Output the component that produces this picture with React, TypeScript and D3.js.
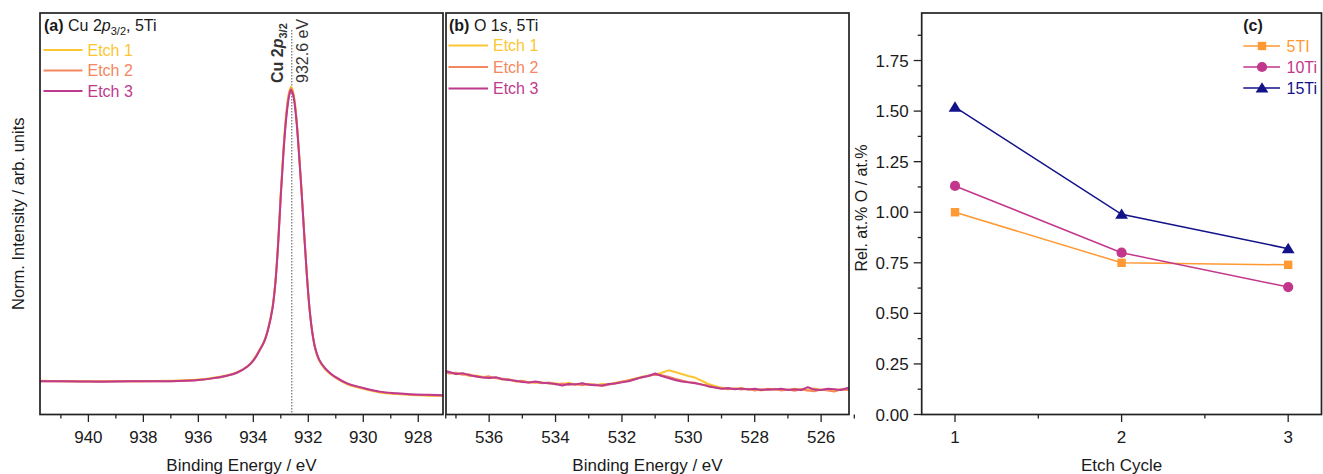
import React from 'react';
import * as d3 from 'd3';

const FONT = '"Liberation Sans", Arial, Helvetica, sans-serif';

// ---------- Panel (a): Cu 2p3/2 ----------
const cuEnergy = [941.9, 941.0, 940.0, 939.0, 938.0, 937.0, 936.5, 936.0, 935.5, 935.0, 934.6, 934.2, 934.0, 933.8, 933.6, 933.45, 933.3, 933.2, 933.1, 933.0, 932.9, 932.8, 932.7, 932.63, 932.55, 932.45, 932.35, 932.25, 932.15, 932.05, 931.95, 931.85, 931.75, 931.6, 931.4, 931.2, 931.0, 930.6, 930.0, 929.4, 928.8, 928.3, 927.6, 927.0];
const cuEtch1 = [8.4, 8.3, 8.3, 8.3, 8.3, 8.4, 8.5, 8.7, 9.1, 9.7, 10.5, 12.1, 13.6, 15.8, 18.4, 21.8, 26.9, 33.0, 42.7, 55.3, 66.5, 75.2, 80.3, 81.6, 80.4, 75.3, 66.6, 56.4, 45.2, 34.5, 25.9, 20.1, 16.4, 13.4, 11.4, 10.1, 9.1, 7.6, 6.4, 5.5, 5.1, 4.85, 4.7, 4.6];
const cuEtch2 = [8.3, 8.3, 8.2, 8.3, 8.3, 8.3, 8.4, 8.6, 9.0, 9.6, 10.4, 12.0, 13.5, 15.7, 18.3, 21.6, 26.6, 32.7, 42.3, 54.9, 66.0, 74.6, 79.8, 81.2, 79.9, 74.9, 66.3, 56.2, 45.1, 34.5, 26.0, 20.2, 16.5, 13.5, 11.5, 10.2, 9.2, 7.7, 6.5, 5.6, 5.2, 4.95, 4.8, 4.7];
const cuEtch3 = [8.3, 8.3, 8.2, 8.2, 8.3, 8.3, 8.4, 8.6, 9.0, 9.6, 10.4, 12.0, 13.4, 15.6, 18.2, 21.5, 26.5, 32.5, 42.0, 54.5, 65.5, 74.0, 79.2, 80.8, 79.5, 74.5, 66.0, 56.0, 45.0, 34.5, 26.0, 20.3, 16.6, 13.6, 11.6, 10.3, 9.3, 7.8, 6.6, 5.7, 5.3, 5.05, 4.9, 4.8];
const cuPeakEnergy = 932.6;
const aMajorTicks = [940, 938, 936, 934, 932, 930, 928];
const aMinorTicks = [941, 939, 937, 935, 933, 931, 929, 927];

// ---------- Panel (b): O 1s ----------
const oEnergy = [537.4, 537.2, 537.0, 536.8, 536.6, 536.4, 536.2, 536.0, 535.8, 535.6,
  535.4, 535.2, 535.0, 534.8, 534.6, 534.4, 534.2, 534.0, 533.8, 533.6,
  533.4, 533.2, 533.0, 532.8, 532.6, 532.4, 532.2, 532.0, 531.8, 531.6,
  531.4, 531.2, 531.0, 530.8, 530.6, 530.4, 530.2, 530.0, 529.8, 529.6,
  529.4, 529.2, 529.0, 528.8, 528.6, 528.4, 528.2, 528.0, 527.8, 527.6,
  527.4, 527.2, 527.0, 526.8, 526.6, 526.4, 526.2, 526.0, 525.8, 525.6,
  525.4, 525.2, 525.0];
const oEtch1 = [10.7, 10.5, 10.0, 10.2, 9.6, 9.7, 9.4, 9.0, 9.2, 8.7,
  8.8, 8.2, 8.3, 8.1, 7.9, 8.0, 7.7, 7.8, 7.5, 7.9,
  7.4, 7.7, 7.5, 7.3, 7.6, 7.5, 7.9, 8.1, 8.6, 8.9,
  9.4, 9.6, 10.0, 10.4, 11.0, 10.6, 10.1, 9.6, 9.2, 8.4,
  7.6, 7.1, 6.7, 6.5, 6.4, 6.6, 6.2, 6.3, 6.0, 6.4,
  6.2, 6.3, 6.1, 6.4, 6.2, 6.0, 6.5, 6.1, 6.3, 5.9,
  6.2, 6.3, 6.2];
const oEtch2 = [10.8, 10.2, 10.4, 9.9, 10.0, 9.4, 9.3, 9.5, 9.0, 8.9,
  8.7, 8.3, 8.4, 7.9, 8.1, 7.8, 8.0, 7.5, 7.7, 7.4,
  7.6, 7.3, 7.6, 7.5, 7.1, 7.4, 7.8, 8.2, 8.5, 8.9,
  9.2, 9.7, 9.9, 9.8, 9.4, 8.9, 8.5, 8.1, 7.9, 7.4,
  7.2, 6.8, 6.5, 6.3, 6.5, 6.2, 6.4, 6.0, 6.3, 6.1,
  6.4, 6.0, 6.2, 5.9, 6.3, 6.0, 5.8, 6.2, 6.0, 5.7,
  6.3, 6.1, 6.0];
const oEtch3 = [11.0, 10.6, 10.1, 10.3, 9.8, 9.5, 9.2, 9.1, 9.3, 8.8,
  8.6, 8.4, 8.1, 8.0, 8.2, 7.9, 7.8, 7.6, 7.2, 7.6,
  7.5, 7.8, 7.4, 7.3, 7.2, 7.6, 7.7, 8.0, 8.3, 8.8,
  9.3, 9.6, 10.2, 9.6, 9.1, 8.6, 8.2, 8.0, 7.8, 7.5,
  7.0, 6.7, 6.4, 6.6, 6.3, 6.5, 6.2, 6.4, 6.1, 6.3,
  6.2, 6.4, 6.1, 6.3, 6.1, 6.8, 6.2, 6.1, 6.4, 6.3,
  6.1, 6.6, 6.5];
const bMajorTicks = [536, 534, 532, 530, 528, 526];
const bMinorTicks = [537, 535, 533, 531, 529, 527, 525];

const etchLabels = ['Etch 1', 'Etch 2', 'Etch 3'];
const etchColors = ['#FCC631', '#F4875D', '#BE3A8C'];

// ---------- Panel (c): ratio ----------
const cycles = [1, 2, 3];
const ti5 = [1.0, 0.75, 0.74];
const ti10 = [1.13, 0.8, 0.63];
const ti15 = [1.52, 0.99, 0.82];
const seriesNames = ['5TI', '10Ti', '15Ti'];
const seriesColors = ['#FF9933', '#C2378B', '#12128A'];
const seriesMarkers = ['square', 'circle', 'triangle'];
const cMajorY = [0, 0.25, 0.5, 0.75, 1.0, 1.25, 1.5, 1.75];
const cMinorY = [0.125, 0.375, 0.625, 0.875, 1.125, 1.375, 1.625, 1.875];
const cMajorX = [1, 2, 3];
const cMinorX = [1.5, 2.5];

// ---------- Layout ----------
const A = { l: 40, r: 443, t: 13, b: 414.5 };
const B = { l: 446, r: 849, t: 13, b: 414.5 };
const C = { l: 921.7, r: 1321.5, t: 13, b: 414.5 };

const xa = d3.scaleLinear().domain([941.76, 927.1]).range([A.l, A.r]);
const xb = d3.scaleLinear().domain([537.3, 525.16]).range([B.l, B.r]);
const yab = d3.scaleLinear().domain([0, 100]).range([A.b, A.t]);
const xc = d3.scaleLinear().domain([0.8, 3.2]).range([C.l, C.r]);
const yc = d3.scaleLinear().domain([0, 1.985]).range([C.b, C.t]);

const TXT = '#1a1a1a';
const FRAME = '#222';
const TICK_FS = 17;

function BottomTicks({ scale, major, minor, y, fmt }: any) {
  return (
    <g>
      {minor.map((v: number) => (
        <line key={'m' + v} x1={scale(v)} x2={scale(v)} y1={y} y2={y + 4} stroke={FRAME} strokeWidth={1.3} />
      ))}
      {major.map((v: number) => (
        <g key={'M' + v}>
          <line x1={scale(v)} x2={scale(v)} y1={y} y2={y + 7.5} stroke={FRAME} strokeWidth={1.3} />
          <text x={scale(v)} y={y + 28.5} textAnchor="middle" fontSize={TICK_FS} fill={TXT}>{fmt(v)}</text>
        </g>
      ))}
    </g>
  );
}

function Marker({ type, x, y, color }: any) {
  if (type === 'square') return <rect x={x - 4.2} y={y - 4.2} width={8.4} height={8.4} fill={color} />;
  if (type === 'circle') return <circle cx={x} cy={y} r={5.1} fill={color} />;
  return <polygon points={`${x},${y - 5.8} ${x - 6.4},${y + 4.6} ${x + 6.4},${y + 4.6}`} fill={color} />;
}

export default function App() {
  const cuLine = d3.line<number>()
    .x((_, i) => xa(cuEnergy[i]))
    .y((d) => yab(d))
    .curve(d3.curveCatmullRom.alpha(0.5));
  const oLine = d3.line<number>()
    .x((_, i) => xb(oEnergy[i]))
    .y((d) => yab(d));
  const cLine = d3.line<number>()
    .x((_, i) => xc(cycles[i]))
    .y((d) => yc(d));

  const cuSeries = [cuEtch1, cuEtch2, cuEtch3];
  const oSeries = [oEtch1, oEtch2, oEtch3];
  const cSeries = [ti5, ti10, ti15];
  const aLegY = [50, 70.6, 91];
  const bLegY = [45.5, 67, 88.5];
  const cLegY = [46, 67, 88];
  const peakX = xa(cuPeakEnergy);

  return (
    <svg width={1323} height={474} style={{ position: 'absolute', left: 0, top: 0, fontFamily: FONT }}>
      <defs>
        <clipPath id="clipA"><rect x={A.l} y={A.t} width={A.r - A.l} height={A.b - A.t} /></clipPath>
        <clipPath id="clipB"><rect x={B.l} y={B.t} width={B.r - B.l} height={B.b - B.t} /></clipPath>
      </defs>
      <rect x={0} y={0} width={1323} height={474} fill="#fff" />

      {/* ---------- Panel (a) ---------- */}
      <g clipPath="url(#clipA)">
        <line x1={peakX} x2={peakX} y1={30} y2={A.b} stroke="#555" strokeWidth={1} strokeDasharray="1.5,1.5" />
        {cuSeries.map((s, i) => (
          <path key={i} d={cuLine(s) || ''} fill="none" stroke={etchColors[i]} strokeWidth={2} />
        ))}
      </g>
      <rect x={A.l} y={A.t} width={A.r - A.l} height={A.b - A.t} fill="none" stroke={FRAME} strokeWidth={1.7} />
      <BottomTicks scale={xa} major={aMajorTicks} minor={aMinorTicks} y={A.b} fmt={(v: number) => String(v)} />
      <text x={(A.l + A.r) / 2} y={471} textAnchor="middle" fontSize={17} fill={TXT}>Binding Energy / eV</text>
      <text transform={`translate(24, ${(A.t + A.b) / 2}) rotate(-90)`} textAnchor="middle" fontSize={16.5} fill={TXT}>Norm. Intensity / arb. units</text>
      <text x={44} y={31} fontSize={16} fill={TXT}>
        <tspan fontWeight="bold">(a)</tspan> Cu 2<tspan fontStyle="italic">p</tspan>
        <tspan fontSize={11} dy={4}>3/2</tspan><tspan dy={-4}>, 5Ti</tspan>
      </text>
      {etchLabels.map((lab, i) => (
        <g key={lab}>
          <line x1={43.5} x2={82.5} y1={aLegY[i]} y2={aLegY[i]} stroke={etchColors[i]} strokeWidth={2} />
          <text x={87.5} y={aLegY[i] + 5.8} fontSize={16} fill={etchColors[i]}>{lab}</text>
        </g>
      ))}
      <text transform={`translate(282.5, 83) rotate(-90)`} fontSize={16} fontWeight="bold" fill="#333">
        Cu 2<tspan fontStyle="italic">p</tspan><tspan fontSize={11} dy={4}>3/2</tspan>
      </text>
      <text transform={`translate(308, 83) rotate(-90)`} fontSize={16} fill="#333">932.6 eV</text>

      {/* ---------- Panel (b) ---------- */}
      <g clipPath="url(#clipB)">
        {oSeries.map((s, i) => (
          <path key={i} d={oLine(s) || ''} fill="none" stroke={etchColors[i]} strokeWidth={2} strokeLinejoin="round" />
        ))}
      </g>
      <rect x={B.l} y={B.t} width={B.r - B.l} height={B.b - B.t} fill="none" stroke={FRAME} strokeWidth={1.7} />
      <BottomTicks scale={xb} major={bMajorTicks} minor={bMinorTicks} y={B.b} fmt={(v: number) => String(v)} />
      <text x={(B.l + B.r) / 2} y={471} textAnchor="middle" fontSize={17} fill={TXT}>Binding Energy / eV</text>
      <text x={449} y={30.5} fontSize={16} fill={TXT}>
        <tspan fontWeight="bold">(b)</tspan> O 1<tspan fontStyle="italic">s</tspan>, 5Ti
      </text>
      {etchLabels.map((lab, i) => (
        <g key={lab}>
          <line x1={448.5} x2={488} y1={bLegY[i]} y2={bLegY[i]} stroke={etchColors[i]} strokeWidth={2} />
          <text x={493} y={bLegY[i] + 5.8} fontSize={16} fill={etchColors[i]}>{lab}</text>
        </g>
      ))}

      {/* ---------- Panel (c) ---------- */}
      <rect x={C.l} y={C.t} width={C.r - C.l} height={C.b - C.t} fill="none" stroke={FRAME} strokeWidth={1.7} />
      {cMinorY.map((v) => (
        <line key={'ym' + v} x1={C.l - 4} x2={C.l} y1={yc(v)} y2={yc(v)} stroke={FRAME} strokeWidth={1.3} />
      ))}
      {cMajorY.map((v) => (
        <g key={'yM' + v}>
          <line x1={C.l - 8} x2={C.l} y1={yc(v)} y2={yc(v)} stroke={FRAME} strokeWidth={1.3} />
          <text x={C.l - 13} y={yc(v)} dy="0.36em" textAnchor="end" fontSize={TICK_FS} fill={TXT}>{v.toFixed(2)}</text>
        </g>
      ))}
      <BottomTicks scale={xc} major={cMajorX} minor={cMinorX} y={C.b} fmt={(v: number) => String(v)} />
      <text x={(C.l + C.r) / 2} y={471} textAnchor="middle" fontSize={17} fill={TXT}>Etch Cycle</text>
      <text transform={`translate(867, 208) rotate(-90)`} textAnchor="middle" fontSize={16} fill={TXT}>Rel. at.% O / at.%</text>
      {cSeries.map((s, i) => (
        <g key={i}>
          <path d={cLine(s) || ''} fill="none" stroke={seriesColors[i]} strokeWidth={1.5} />
          {s.map((v, j) => (
            <Marker key={j} type={seriesMarkers[i]} x={xc(cycles[j])} y={yc(v)} color={seriesColors[i]} />
          ))}
        </g>
      ))}
      <text x={1253} y={31} textAnchor="middle" fontSize={16} fontWeight="bold" fill={TXT}>(c)</text>
      {seriesNames.map((n, i) => (
        <g key={n}>
          <line x1={1243.3} x2={1280} y1={cLegY[i]} y2={cLegY[i]} stroke={seriesColors[i]} strokeWidth={1.5} />
          <Marker type={seriesMarkers[i]} x={1262} y={cLegY[i]} color={seriesColors[i]} />
          <text x={1286.5} y={cLegY[i] + 5.8} fontSize={16} fill={seriesColors[i]}>{n}</text>
        </g>
      ))}
    </svg>
  );
}
